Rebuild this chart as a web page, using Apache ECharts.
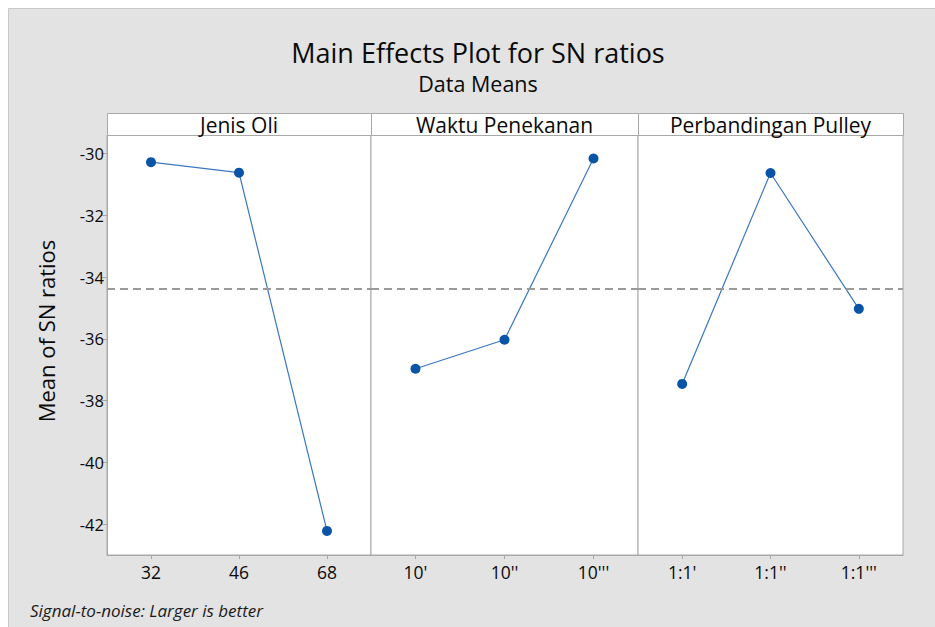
<!DOCTYPE html>
<html>
<head>
<meta charset="utf-8">
<script src="https://cdn.jsdelivr.net/npm/echarts@6/dist/echarts.min.js"></script>
<style>
html,body{margin:0;padding:0;background:#fff;}
#chart{width:935px;height:627px;}
</style>
</head>
<body>
<div id="chart"></div>
<script>
// ---- data ----
const factorNames = ['Jenis Oli', 'Waktu Penekanan', 'Perbandingan Pulley'];
const jenisOliLevels = ['32', '46', '68'];
const jenisOliMeans = [-30.28, -30.62, -42.22];
const waktuLevels = ["10'", "10''", "10'''"];
const waktuMeans = [-36.97, -36.03, -30.16];
const pulleyLevels = ["1:1'", "1:1''", "1:1'''"];
const pulleyMeans = [-37.46, -30.63, -35.03];
const yTicks = [-42, -40, -38, -36, -34, -32, -30];
const yMin = -43.0;
const yMax = -29.4;

const levelsList = [jenisOliLevels, waktuLevels, pulleyLevels];
const meansList = [jenisOliMeans, waktuMeans, pulleyMeans];
const allVals = [].concat(jenisOliMeans, waktuMeans, pulleyMeans);
const overallMean = allVals.reduce((a, b) => a + b, 0) / allVals.length;

// ---- layout ----
const panelLefts = [107, 371, 638];
const panelWidths = [264, 267, 265];
const gridTop = 135, gridHeight = 420, headerTop = 113;
const fontFam = '"Open Sans", "Noto Sans", sans-serif';
const borderCol = '#a8a8a8';
const textCol = '#0a0a0a';

const chart = echarts.init(document.getElementById('chart'), null, {renderer: 'svg'});

const grids = [], xAxes = [], yAxes = [], series = [], headerGraphics = [];
for (let i = 0; i < 3; i++) {
  grids.push({
    left: panelLefts[i], top: gridTop, width: panelWidths[i], height: gridHeight,
    show: true, backgroundColor: '#ffffff', borderColor: borderCol, borderWidth: 1
  });
  xAxes.push({
    type: 'category', gridIndex: i, data: levelsList[i], boundaryGap: true,
    axisLine: {show: true, lineStyle: {color: borderCol}},
    axisTick: {show: true, alignWithLabel: true, length: 4, lineStyle: {color: borderCol}},
    axisLabel: {color: textCol, fontSize: 17.5, fontFamily: fontFam, margin: 8},
    splitLine: {show: false}
  });
  yAxes.push({
    type: 'value', gridIndex: i, min: yMin, max: yMax,
    show: i === 0,
    axisLine: {show: true, lineStyle: {color: borderCol}},
    axisTick: {show: true, length: 6, lineStyle: {color: borderCol}, customValues: yTicks},
    axisLabel: {color: textCol, fontSize: 16.5, fontFamily: fontFam, margin: 3, customValues: yTicks},
    splitLine: {show: false}
  });
  series.push({
    type: 'line', xAxisIndex: i, yAxisIndex: i, data: meansList[i],
    symbol: 'circle', symbolSize: 10,
    lineStyle: {color: '#3b76c4', width: 1.2},
    itemStyle: {color: '#0a54a8'},
    markLine: {
      silent: true, symbol: 'none', label: {show: false},
      lineStyle: {color: '#9a9a9a', type: [8, 5], width: 2},
      data: [{yAxis: overallMean}]
    },
    z: 3
  });
  headerGraphics.push({
    type: 'rect', left: panelLefts[i], top: headerTop,
    shape: {width: panelWidths[i], height: gridTop - headerTop},
    style: {fill: '#ffffff', stroke: borderCol, lineWidth: 1}
  });
  headerGraphics.push({
    type: 'text', x: panelLefts[i] + panelWidths[i] / 2, y: headerTop + (gridTop - headerTop) / 2 + 1,
    style: {text: factorNames[i], fill: textCol, font: '21px ' + fontFam, textAlign: 'center', textVerticalAlign: 'middle'}
  });
}

const option = {
  backgroundColor: '#ffffff',
  animation: false,
  graphic: [
    {type: 'rect', left: 8, top: 8, shape: {width: 940, height: 640},
     style: {fill: '#e3e3e3', stroke: '#c8c8c8', lineWidth: 1}, z: -10},
    {type: 'text', x: 478, y: 52,
     style: {text: 'Main Effects Plot for SN ratios', fill: textCol, font: '27px ' + fontFam, textAlign: 'center', textVerticalAlign: 'middle'}},
    {type: 'text', x: 478, y: 83,
     style: {text: 'Data Means', fill: textCol, font: '21.5px ' + fontFam, textAlign: 'center', textVerticalAlign: 'middle'}},
    {type: 'text', x: 46, y: 331, rotation: Math.PI / 2,
     style: {text: 'Mean of SN ratios', fill: textCol, font: '22px ' + fontFam, textAlign: 'center', textVerticalAlign: 'middle'}},
    {type: 'text', x: 30, y: 610,
     style: {text: 'Signal-to-noise: Larger is better', fill: '#1a1a1a', font: 'italic 17px ' + fontFam, textAlign: 'left', textVerticalAlign: 'middle'}}
  ].concat(headerGraphics),
  grid: grids,
  xAxis: xAxes,
  yAxis: yAxes,
  series: series
};
chart.setOption(option);
</script>
</body>
</html>
